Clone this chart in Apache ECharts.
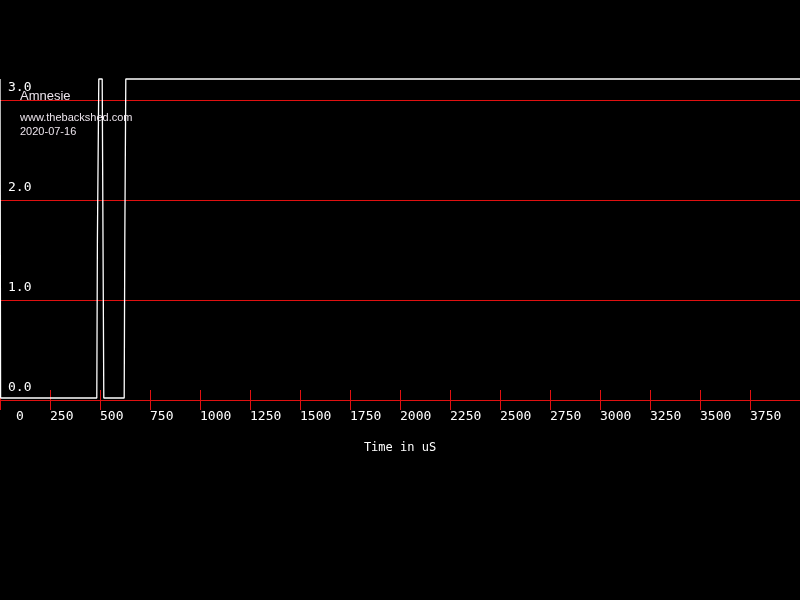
<!DOCTYPE html>
<html>
<head>
<meta charset="utf-8">
<script src="https://cdn.jsdelivr.net/npm/echarts@6/dist/echarts.min.js"></script>
<style>html,body{margin:0;padding:0;background:#000;}#c{width:800px;height:600px;}</style>
</head>
<body>
<div id="c"></div>
<script>
// Trace samples (time in microseconds, volts)
const timeUs = [0, 3, 484, 487, 494, 511, 519, 621, 624, 629, 4000];
const volts  = [3.21, 0.02, 0.02, 1.6, 3.21, 3.21, 0.02, 0.02, 1.6, 3.21, 3.21];
const xTicks = [0, 250, 500, 750, 1000, 1250, 1500, 1750, 2000, 2250, 2500, 2750, 3000, 3250, 3500, 3750];
const yGridValues = [1, 2, 3];
const titleText = 'Amnesie';
const subText = 'www.thebackshed.com\n2020-07-16';
const xName = 'Time in uS';

const red = '#e01010';
const mono = 'DejaVu Sans Mono';
const chart = echarts.init(document.getElementById('c'), null, {renderer: 'canvas'});
chart.setOption({
  backgroundColor: '#000',
  animation: false,
  title: {
    text: titleText, subtext: subText, left: 20, top: 90, itemGap: 8, padding: 0,
    textStyle: {fontFamily: 'Liberation Sans', fontSize: 13, fontWeight: 'normal', color: '#ece4ec'},
    subtextStyle: {fontFamily: 'Liberation Sans', fontSize: 11, color: '#ece4ec', lineHeight: 14}
  },
  grid: {left: 0, right: 0, top: 0, bottom: 200, containLabel: false},
  xAxis: [{
    type: 'value', min: 0, max: 4000, interval: 250,
    name: xName, nameLocation: 'middle', nameGap: 42,
    nameTextStyle: {fontFamily: mono, fontSize: 12, color: '#fff'},
    axisLine: {show: true, lineStyle: {color: red, width: 1}},
    axisTick: {show: true, inside: false, length: 10, lineStyle: {color: red}},
    splitLine: {show: false},
    axisLabel: {
      show: true, margin: 10, align: 'left', color: '#fff', fontFamily: mono, fontSize: 13,
      showMaxLabel: false,
      formatter: v => (xTicks.indexOf(v) < 0 ? '' : (v === 0 ? '{z|0}' : String(v))),
      rich: {z: {padding: [0, 0, 0, 16], fontFamily: mono, fontSize: 13, color: '#fff'}}
    }
  }, {
    type: 'value', min: 0, max: 4000, interval: 250, position: 'bottom',
    axisLine: {show: false},
    axisTick: {show: true, inside: true, length: 10, lineStyle: {color: red}},
    axisLabel: {show: false}, splitLine: {show: false}
  }],
  yAxis: {
    type: 'value', min: 0, max: 4, interval: 1,
    axisLine: {show: false}, axisTick: {show: false}, splitLine: {show: false},
    axisLabel: {
      inside: true, margin: 8, align: 'left', verticalAlign: 'bottom', padding: [0, 0, 6, 0],
      color: '#fff', fontFamily: mono, fontSize: 13, showMaxLabel: false,
      formatter: v => v.toFixed(1)
    }
  },
  series: [{
    type: 'line', xAxisIndex: 0, showSymbol: false, symbol: 'none',
    data: timeUs.map((t, i) => [t, volts[i]]),
    lineStyle: {color: '#fff', width: 1.3},
    z: 5,
    markLine: {
      silent: true, symbol: 'none', label: {show: false},
      lineStyle: {color: red, width: 1, type: 'solid'},
      data: yGridValues.map(v => ({yAxis: v})),
      z: 1
    }
  }]
});
</script>
</body>
</html>
